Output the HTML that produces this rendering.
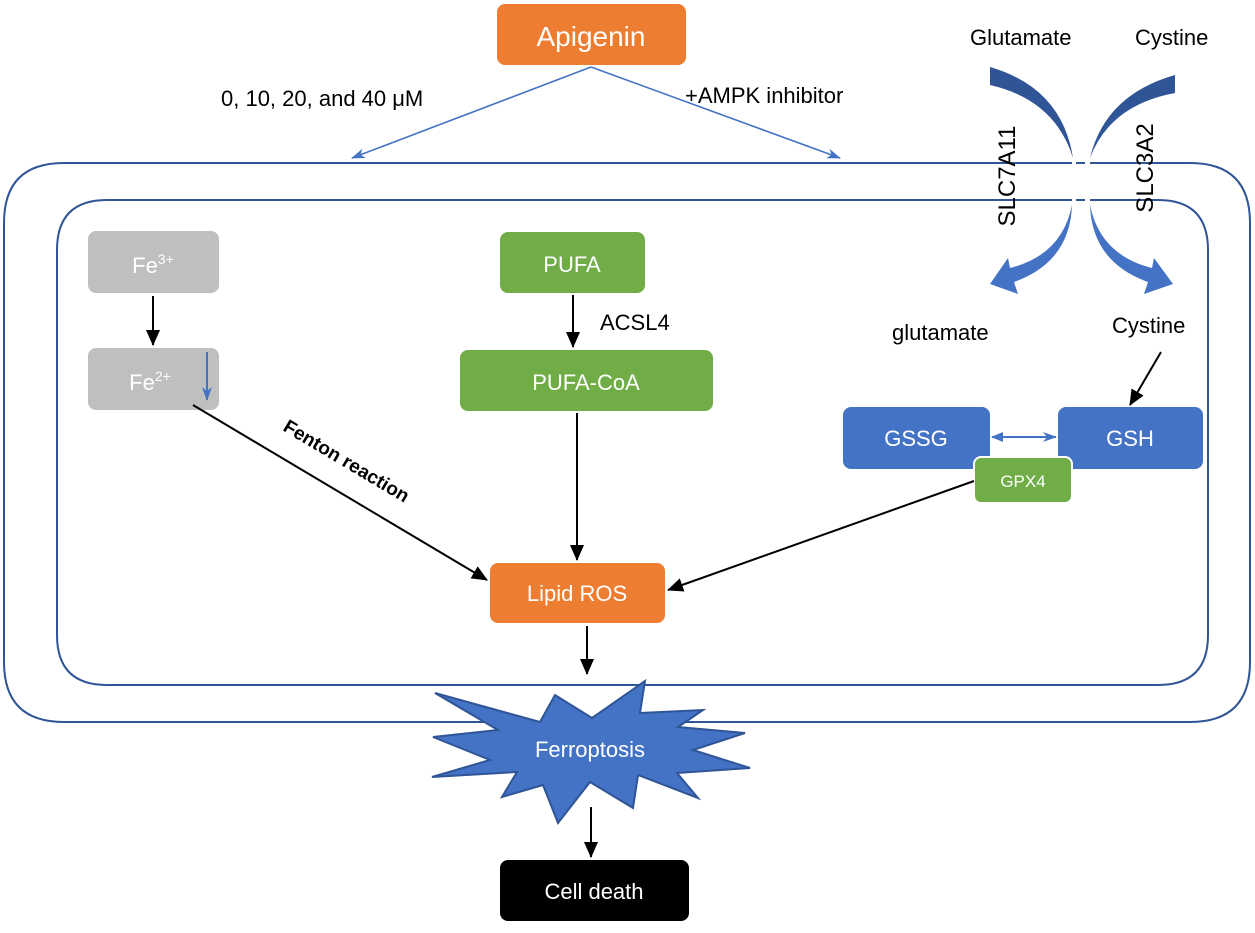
<!DOCTYPE html>
<html><head><meta charset="utf-8"><style>
html,body{margin:0;padding:0;background:#fff;}
svg{display:block;font-family:"Liberation Sans",sans-serif;}
</style></head><body>
<svg width="1255" height="933" viewBox="0 0 1255 933" xmlns="http://www.w3.org/2000/svg">
<defs>
<marker id="ab2" markerWidth="16" markerHeight="14" refX="15" refY="7" orient="auto" markerUnits="userSpaceOnUse"><path d="M0,0 L16,7 L0,14 Z" fill="#000"/></marker>
<marker id="bl" markerWidth="14" markerHeight="10" refX="13" refY="5" orient="auto" markerUnits="userSpaceOnUse"><path d="M0,0 L14,5 L0,10 L4,5 Z" fill="#4472C4"/></marker>
<marker id="bls" markerWidth="12" markerHeight="10" refX="1" refY="5" orient="auto" markerUnits="userSpaceOnUse"><path d="M12,0 L0,5 L12,10 Z" fill="#4472C4"/></marker>
</defs>
<path d="M1072,163 L64,163 Q4,163 4,223 L4,662 Q4,722 64,722 L1190,722 Q1250,722 1250,662 L1250,223 Q1250,163 1190,163 L1090,163" fill="none" stroke="#2F5597" stroke-width="2"/>
<path d="M1072,200 L107,200 Q57,200 57,250 L57,635 Q57,685 107,685 L1158,685 Q1208,685 1208,635 L1208,250 Q1208,200 1158,200 L1090,200" fill="none" stroke="#2F5597" stroke-width="2"/>
<line x1="1076" y1="163" x2="1085" y2="163" stroke="#2F5597" stroke-width="2"/>
<line x1="1076" y1="200" x2="1085" y2="200" stroke="#2F5597" stroke-width="2"/>
<path d="M990,67 L990,85 Q1055,100 1073,158 Q1062,88 990,67 Z" fill="#2F5597"/>
<path d="M1175,75 L1175,93 Q1110,105 1090,158 Q1105,95 1175,75 Z" fill="#2F5597"/>
<path d="M1072,205 Q1062,255 1010,268 L1008,258 L990,284 L1018,294 L1014,282 Q1070,262 1072,205 Z" fill="#4472C4"/>
<path d="M1090,205 Q1100,255 1152,268 L1154,258 L1173,284 L1144,294 L1148,282 Q1092,262 1090,205 Z" fill="#4472C4"/>
<text x="970" y="45" font-size="22">Glutamate</text>
<text x="1135" y="45" font-size="22">Cystine</text>
<text font-size="24" transform="translate(1015,176) rotate(-90)" text-anchor="middle">SLC7A11</text>
<text font-size="24" transform="translate(1153,168) rotate(-90)" text-anchor="middle">SLC3A2</text>
<text x="892" y="340" font-size="22">glutamate</text>
<text x="1112" y="333" font-size="22">Cystine</text>
<rect x="497" y="4" width="189" height="61" rx="8" fill="#ED7D31"/>
<text x="591" y="46" font-size="28" fill="#fff" text-anchor="middle">Apigenin</text>
<line x1="591" y1="67" x2="352" y2="158" stroke="#4472C4" stroke-width="1.6" marker-end="url(#bl)"/>
<line x1="591" y1="67" x2="840" y2="158" stroke="#4472C4" stroke-width="1.6" marker-end="url(#bl)"/>
<text x="221" y="106" font-size="22">0, 10, 20, and 40 μM</text>
<text x="685" y="103" font-size="22">+AMPK inhibitor</text>
<rect x="88" y="231" width="131" height="62" rx="8" fill="#BFBFBF"/>
<text x="153" y="273" font-size="22" fill="#fff" text-anchor="middle">Fe<tspan font-size="14" dy="-9">3+</tspan></text>
<rect x="88" y="348" width="131" height="62" rx="8" fill="#BFBFBF"/>
<text x="150" y="390" font-size="22" fill="#fff" text-anchor="middle">Fe<tspan font-size="14" dy="-9">2+</tspan></text>
<line x1="207" y1="352" x2="207" y2="400" stroke="#4472C4" stroke-width="2" marker-end="url(#bl)"/>
<line x1="153" y1="296" x2="153" y2="345" stroke="#000" stroke-width="2" marker-end="url(#ab2)"/>
<line x1="193" y1="405" x2="487" y2="580" stroke="#000" stroke-width="2" marker-end="url(#ab2)"/>
<text font-size="19" font-weight="bold" transform="translate(282,430) rotate(30.8)">Fenton reaction</text>
<rect x="500" y="232" width="145" height="61" rx="8" fill="#70AD47"/>
<text x="572" y="272" font-size="22" fill="#fff" text-anchor="middle">PUFA</text>
<line x1="573" y1="295" x2="573" y2="347" stroke="#000" stroke-width="2" marker-end="url(#ab2)"/>
<text x="600" y="330" font-size="22">ACSL4</text>
<rect x="460" y="350" width="253" height="61" rx="8" fill="#70AD47"/>
<text x="586" y="390" font-size="22" fill="#fff" text-anchor="middle">PUFA-CoA</text>
<line x1="577" y1="413" x2="577" y2="560" stroke="#000" stroke-width="2" marker-end="url(#ab2)"/>
<line x1="1161" y1="352" x2="1130" y2="405" stroke="#000" stroke-width="2" marker-end="url(#ab2)"/>
<rect x="843" y="407" width="147" height="62" rx="8" fill="#4472C4"/>
<text x="916" y="446" font-size="22" fill="#fff" text-anchor="middle">GSSG</text>
<rect x="1058" y="407" width="145" height="62" rx="8" fill="#4472C4"/>
<text x="1130" y="446" font-size="22" fill="#fff" text-anchor="middle">GSH</text>
<line x1="992" y1="437" x2="1056" y2="437" stroke="#4472C4" stroke-width="2" marker-end="url(#bl)" marker-start="url(#bls)"/>
<rect x="974" y="457" width="98" height="46" rx="7" fill="#70AD47" stroke="#fff" stroke-width="2"/>
<text x="1023" y="487" font-size="17" fill="#fff" text-anchor="middle">GPX4</text>
<line x1="974" y1="481" x2="668" y2="590" stroke="#000" stroke-width="2" marker-end="url(#ab2)"/>
<rect x="490" y="563" width="175" height="60" rx="8" fill="#ED7D31"/>
<text x="577" y="601" font-size="22" fill="#fff" text-anchor="middle">Lipid ROS</text>
<line x1="587" y1="626" x2="587" y2="674" stroke="#000" stroke-width="2" marker-end="url(#ab2)"/>
<polygon points="435,693 540,722 555,695 592,718 645,681 640,713 703,710 678,727 745,733 693,750 750,768 677,773 698,798 638,775 633,808 590,782 558,823 543,785 502,797 517,772 432,777 490,760 433,737 498,730" fill="#4472C4" stroke="#2F5597" stroke-width="2"/>
<text x="590" y="757" font-size="22" fill="#fff" text-anchor="middle">Ferroptosis</text>
<line x1="591" y1="807" x2="591" y2="857" stroke="#000" stroke-width="2" marker-end="url(#ab2)"/>
<rect x="500" y="860" width="189" height="61" rx="8" fill="#000"/>
<text x="594" y="899" font-size="22" fill="#fff" text-anchor="middle">Cell death</text>
</svg>
</body></html>
